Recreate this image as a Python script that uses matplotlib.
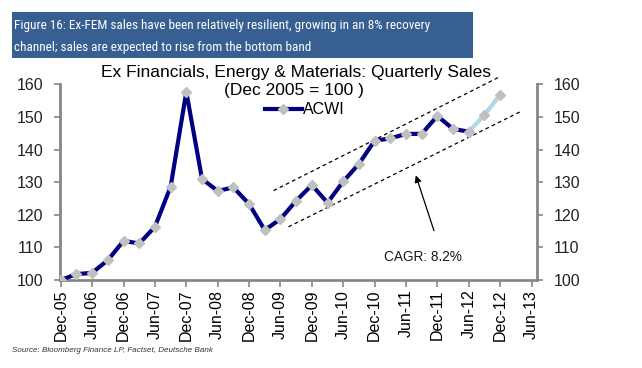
import matplotlib
matplotlib.use("Agg")
import matplotlib.pyplot as plt
from matplotlib.patches import Rectangle
from matplotlib import font_manager
from matplotlib.font_manager import FontProperties

plt.rcParams['font.family'] = ['Liberation Sans', 'DejaVu Sans']

# ---- data ----
# quarterly index: 0 = Dec-05 ... 28 = Dec-12
acwi = [100.0, 101.8, 102.2, 106.1, 112.0, 111.2, 116.3, 128.6, 157.7, 131.0,
        127.3, 128.4, 123.3, 115.3, 118.7, 124.3, 129.1, 123.7, 130.2, 135.6,
        142.7, 143.4, 144.8, 144.8, 150.3, 146.3, 145.5]
quarters = list(range(len(acwi)))
forecast_q = [26, 27, 28]
forecast = [145.5, 150.6, 156.8]

upper_q = [13.56, 27.93]
upper_v = [127.4, 162.2]
lower_q = [14.51, 29.29]
lower_v = [116.3, 151.6]

tick_labels = ['Dec-05', 'Jun-06', 'Dec-06', 'Jun-07', 'Dec-07', 'Jun-08', 'Dec-08',
               'Jun-09', 'Dec-09', 'Jun-10', 'Dec-10', 'Jun-11', 'Dec-11', 'Jun-12',
               'Dec-12', 'Jun-13']
tick_pos = [2 * i for i in range(len(tick_labels))]
yticks = [100, 110, 120, 130, 140, 150, 160]

header1 = 'Figure 16: Ex-FEM sales have been relatively resilient, growing in an 8% recovery'
header2 = 'channel; sales are expected to rise from the bottom band'

# look for a condensed sans font for the header
cond = None
for f in font_manager.fontManager.ttflist:
    nm = f.name.lower()
    fn = f.fname.lower()
    if f.style != 'normal' or f.weight not in (400, 'normal', 'regular'):
        continue
    if 'mono' in nm or 'serif' in nm and 'sans' not in nm:
        continue
    if ('narrow' in nm or 'condensed' in nm or 'narrow' in fn or 'condensed' in fn
            or f.stretch in ('condensed', 'semi-condensed')):
        if 'bold' in fn or 'oblique' in fn or 'italic' in fn:
            continue
        cond = f.fname
        if 'liberation' in fn and 'narrow' in fn:
            break

fig = plt.figure(figsize=(6.42, 3.68), dpi=100)
W, H = 642, 368

# header box
fig.patches.append(Rectangle((12 / W, 1 - 58 / H), (473 - 12) / W, (58 - 12) / H,
                             transform=fig.transFigure, facecolor='#375F92',
                             edgecolor='none'))
if cond:
    fp = FontProperties(fname=cond, size=10.5)
else:
    fp = FontProperties(family=['Liberation Sans', 'DejaVu Sans'], size=8.4)
t1 = fig.text(14 / W, 1 - 26 / H, header1, color='white', va='center', ha='left', fontproperties=fp)
t2 = fig.text(14 / W, 1 - 47 / H, header2, color='white', va='center', ha='left', fontproperties=fp)
# fit line 1 to the reference width (about 421 px)
r = fig.canvas.get_renderer()
w = t1.get_window_extent(r).width
sz = fp.get_size() * 421.0 / w
t1.set_fontsize(sz)
t2.set_fontsize(sz)

ax = fig.add_axes([60 / W, 1 - 280 / H, (537 - 60) / W, (280 - 84.3) / H])
grey = '#868686'

ax.plot(forecast_q, forecast, color='#ADD8E6', lw=3, marker='D', markersize=5,
        markerfacecolor='#C0C0C0', markeredgecolor='#C0C0C0', zorder=3)
ax.plot(quarters, acwi, color='#000080', lw=3, marker='D', markersize=5,
        markerfacecolor='#C0C0C0', markeredgecolor='#C0C0C0', zorder=4, label='ACWI')

ax.plot(upper_q, upper_v, color='black', lw=0.9, ls=(0, (3, 2.5)), clip_on=False)
ax.plot(lower_q, lower_v, color='black', lw=0.9, ls=(0, (3, 2.5)), clip_on=False)

ax.annotate('', xy=(22.57, 132.9), xytext=(23.84, 114.3),
            arrowprops=dict(arrowstyle='-|>', color='black', lw=0.9, mutation_scale=10))
ax.text(23.05, 107.1, 'CAGR: 8.2%', fontsize=9.8, ha='center', va='center', color='#1a1a1a')

ax.set_xlim(-0.05, 30.35)
ax.set_ylim(100, 160)
ax.set_xticks(tick_pos)
ax.set_xticklabels(tick_labels, rotation=90, fontsize=11.5)
ax.set_yticks(yticks)
ax.tick_params(axis='y', labelsize=11.5, length=4, width=1.2,
               direction='out', pad=8, labelright=True, right=True, colors='#222222')
ax.tick_params(axis='y', color=grey)
ax.tick_params(axis='x', length=5, width=1.2, color=grey, direction='out', pad=2)

for s in ['left', 'right', 'bottom']:
    ax.spines[s].set_color(grey)
    ax.spines[s].set_linewidth(2)
ax.spines['top'].set_visible(False)

fig.text(296 / W, 1 - 72 / H, 'Ex Financials, Energy & Materials: Quarterly Sales',
         fontsize=12.5, ha='center', va='center')
fig.text(294 / W, 1 - 91 / H, '(Dec 2005 = 100 )', fontsize=12.5, ha='center', va='center')

leg = ax.legend(loc='center', bbox_to_anchor=(305 / W, 1 - 110 / H),
                bbox_transform=fig.transFigure, frameon=False, fontsize=11.5,
                handlelength=2.3, handletextpad=0.1, borderpad=0)

fig.text(12 / W, 1 - 350 / H, 'Source: Bloomberg Finance LP, Factset, Deutsche Bank',
         fontsize=5.8, style='italic', color='#333333', ha='left', va='center')

fig.savefig('out.png', dpi=100)
